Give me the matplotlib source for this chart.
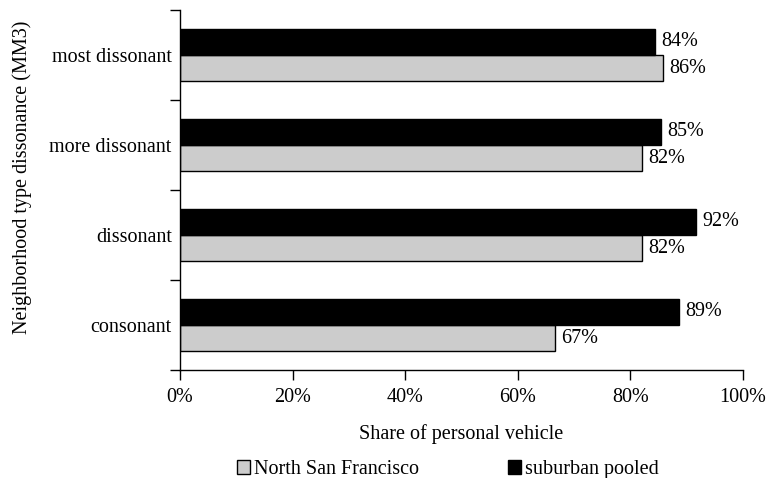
import matplotlib
matplotlib.use('Agg')
import matplotlib.pyplot as plt
import numpy as np

plt.rcParams['font.family'] = ['Liberation Serif', 'DejaVu Serif']

# data (shares in %)
categories = ['consonant', 'dissonant', 'more dissonant', 'most dissonant']
north_sf = [66.6, 82.0, 82.1, 85.8]
suburban = [88.6, 91.6, 85.4, 84.3]
series_names = ['North San Francisco', 'suburban pooled']
x_ticks = [0, 20, 40, 60, 80, 100]

fs = 14.5
fig = plt.figure(figsize=(7.67, 4.78), dpi=100)
ax = fig.add_axes([180/767, 1 - 370/478, (743 - 180)/767, (370 - 10)/478])

y = np.arange(len(categories))
h = 0.29
b1 = ax.barh(y - h/2, north_sf, height=h, color='#cccccc', edgecolor='black',
             linewidth=1, label=series_names[0])
b2 = ax.barh(y + h/2, suburban, height=h, color='black', edgecolor='black',
             linewidth=1, label=series_names[1])

for bars, vals in [(b1, north_sf), (b2, suburban)]:
    for bar, v in zip(bars, vals):
        ax.text(v + 1.1, bar.get_y() + bar.get_height()/2, f'{round(v):d}%',
                va='center', ha='left', fontsize=fs)

ax.set_xlim(0, 100)
ax.set_ylim(-0.5, len(categories) - 0.5)
ax.set_xticks(x_ticks)
ax.set_xticklabels([f'{t}%' for t in x_ticks], fontsize=fs)
ax.set_yticks(np.arange(-0.5, len(categories), 1.0))
ax.set_yticklabels([])
ax.set_yticks(y, minor=True)
ax.set_yticklabels(categories, minor=True, fontsize=fs)
ax.tick_params(axis='y', which='minor', length=0, pad=6)
ax.tick_params(axis='y', which='major', length=7, width=1, direction='out')
ax.tick_params(axis='x', length=7, width=1, direction='out', pad=6)

for s in ['top', 'right']:
    ax.spines[s].set_visible(False)
for s in ['left', 'bottom']:
    ax.spines[s].set_linewidth(1)

ax.set_xlabel('Share of personal vehicle', fontsize=fs, labelpad=12)
ax.set_ylabel('Neighborhood type dissonance (MM3)', fontsize=fs)
ax.yaxis.set_label_coords(-0.263, 0.535)

ax.legend(loc='upper center', bbox_to_anchor=(0.476, -0.2), ncol=2, frameon=False,
          fontsize=fs, handlelength=0.65, handleheight=0.65, handletextpad=0.2,
          columnspacing=4.4)

fig.savefig('out.png', dpi=100)
